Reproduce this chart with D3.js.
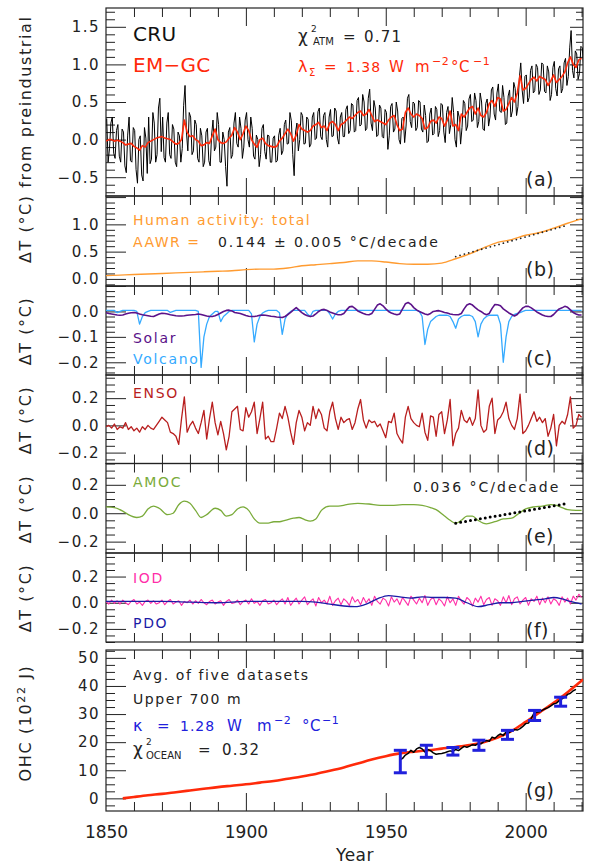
<!DOCTYPE html>
<html>
<head>
<meta charset="utf-8">
<script src="https://cdn.jsdelivr.net/npm/d3@7"></script>
<style>
  body { margin: 0; background: #fff; }
  svg  { display: block; font-family: "DejaVu Sans", sans-serif; }
</style>
</head>
<body>
<svg id="chart" width="589" height="864"></svg>
<script>
// ── Data ─────────────────────────────────────────────────────────────────────

const years = d3.range(1850, 2021);               // annual axis 1850..2020

// CRU observed anomaly, two readings per year (mid-half-years)
const cru = [
  0.28,-0.3, -0.12,0.22, 0.3,-0.18, -0.25,0.12, 0.2,-0.22, -0.3,0.14, 0.1,-0.35, -0.44,0.06, 0.3,-0.28, -0.3,0.16,
  0.12,-0.4, -0.58,0.0, 0.05,-0.47, -0.55,0.16, 0.02,-0.45, 0.3,-0.32, -0.26,0.36, 0.22,-0.3, -0.2,0.42, 0.55,-0.16,
  0.3,-0.24, -0.3,0.22, 0.36,-0.2, -0.25,0.2, 0.14,-0.3, -0.36,0.1, 0.05,-0.3, -0.12,0.45, 0.72,0.1, -0.15,0.36,
  0.3,-0.2, -0.15,0.26, 0.2,-0.25, -0.3,0.15, 0.05,-0.36, -0.3,0.1, 0.15,-0.28, -0.35,0.06, 0.26,-0.15, -0.1,0.36,
  0.2,-0.3, -0.3,0.1, 0.0,-0.36, -0.62,0.1, 0.16,-0.25, -0.2,0.22, 0.36,-0.05, -0.1,0.3, 0.15,-0.25, -0.1,0.26,
  0.36,0.0, -0.1,0.3, 0.15,-0.22, -0.26,0.06, 0.0,-0.36, -0.2,0.15, 0.2,-0.16, -0.26,0.06, 0.05,-0.3, -0.3,0.02,
  0.05,-0.3, -0.28,0.06, 0.15,-0.2, -0.15,0.2, 0.26,-0.06, -0.05,0.36, 0.25,-0.2, -0.48,0.1, 0.22,-0.15, 0.0,0.36,
  0.32,-0.06, -0.05,0.3, 0.27,-0.1, -0.06,0.3, 0.36,0.0, 0.02,0.37, 0.42,0.04, 0.0,0.32, 0.36,0.0, -0.1,0.3,
  0.4,0.04, 0.05,0.42, 0.38,0.02, -0.06,0.3, 0.36,0.04, 0.04,0.4, 0.45,0.08, 0.12,0.48, 0.46,0.1, 0.12,0.52,
  0.56,0.18, 0.2,0.6, 0.5,0.12, 0.15,0.55, 0.67,0.22, 0.12,0.52, 0.42,0.04, 0.06,0.46, 0.42,0.04, 0.02,0.4,
  0.36,-0.13, 0.05,0.44, 0.48,0.1, 0.14,0.5, 0.38,0.0, -0.06,0.28, 0.3,-0.04, 0.18,0.55, 0.6,0.24, 0.16,0.5,
  0.48,0.12, 0.16,0.52, 0.5,0.14, 0.1,0.46, 0.32,-0.04, -0.02,0.34, 0.42,0.06, 0.08,0.44, 0.4,0.04, 0.12,0.48,
  0.46,0.1, -0.04,0.36, 0.44,0.08, 0.2,0.56, 0.36,0.0, -0.1,0.38, 0.3,-0.06, 0.16,0.52, 0.48,0.12, 0.18,0.54,
  0.6,0.24, 0.26,0.62, 0.52,0.16, 0.24,0.62, 0.5,0.14, 0.12,0.48, 0.54,0.18, 0.3,0.66, 0.7,0.34, 0.26,0.62,
  0.74,0.38, 0.36,0.72, 0.56,0.2, 0.22,0.58, 0.66,0.3, 0.38,0.76, 0.68,0.32, 0.44,0.82, 1.02,0.66, 0.48,0.84,
  0.86,0.5, 0.56,0.92, 0.98,0.62, 0.65,1.0, 0.96,0.6, 0.66,1.02, 1.0,0.64, 0.62,0.98, 0.9,0.52, 0.6,0.96,
  1.04,0.68, 0.58,0.94, 0.98,0.62, 0.68,1.02, 1.08,0.72, 0.84,1.22, 1.45,0.92, 0.82,1.18, 1.14,0.8, 0.88,1.24,
  1.22,0.95
];
const cruTime = cru.map((d, i) => 1850.25 + i * 0.5);

// EM-GC modelled anomaly, annual
const emgc = [
  -0.02,0.0,0.0,-0.02,-0.01,-0.02,-0.04,-0.07,-0.06,-0.05,
  -0.09,-0.11,-0.14,-0.08,-0.1,-0.04,-0.02,0.0,0.02,0.03,
  0.04,0.02,0.01,0.0,-0.03,-0.06,-0.05,0.0,0.26,0.1,
  0.04,0.05,0.0,-0.02,-0.08,-0.07,-0.04,-0.05,0.05,0.14,
  0.0,-0.04,-0.05,-0.03,0.02,0.06,0.16,0.1,0.0,0.08,
  0.18,0.12,0.0,-0.06,-0.1,0.0,0.02,-0.05,-0.08,-0.09,
  -0.1,-0.09,-0.02,0.02,0.08,0.14,0.08,-0.02,0.06,0.2,
  0.14,0.12,0.1,0.12,0.18,0.2,0.23,0.16,0.18,0.12,
  0.22,0.24,0.2,0.12,0.2,0.22,0.26,0.3,0.28,0.32,
  0.36,0.38,0.32,0.34,0.4,0.32,0.24,0.26,0.24,0.22,
  0.2,0.26,0.3,0.32,0.2,0.12,0.14,0.36,0.42,0.34,
  0.3,0.34,0.32,0.28,0.14,0.16,0.24,0.26,0.22,0.3,
  0.28,0.18,0.26,0.38,0.18,0.2,0.12,0.34,0.3,0.36,
  0.42,0.44,0.34,0.42,0.32,0.3,0.36,0.48,0.52,0.44,
  0.56,0.54,0.38,0.4,0.48,0.56,0.5,0.62,0.85,0.66,
  0.68,0.74,0.8,0.83,0.78,0.84,0.82,0.8,0.72,0.78,
  0.86,0.76,0.8,0.84,0.9,1.02,1.1,1.0,0.96,1.06,
  1.08
];

// (b) human-induced warming
const humanYear = [1850,1855,1860,1865,1870,1875,1880,1885,1890,1895,1900,1905,1910,1915,1920,1925,1930,1935,1940,1945,1950,1955,1960,1965,1970,1975,1980,1985,1990,1995,2000,2005,2010,2015,2020];
const humanVal  = [0.06,0.07,0.08,0.09,0.1,0.11,0.12,0.13,0.14,0.15,0.17,0.18,0.18,0.2,0.24,0.26,0.28,0.3,0.33,0.33,0.31,0.28,0.27,0.27,0.29,0.37,0.46,0.57,0.67,0.72,0.8,0.85,0.93,1.02,1.1];
const aawrYear  = [1975, 2015];
const aawrVal   = [0.41, 0.985];

// (c) solar and volcanic, annual
const solar = [
  -0.005,-0.008,-0.01,-0.012,-0.014,-0.015,-0.014,-0.01,-0.007,-0.005,
  -0.004,-0.006,-0.01,-0.013,-0.015,-0.017,-0.019,-0.02,-0.015,-0.01,
  -0.007,-0.008,-0.01,-0.013,-0.015,-0.017,-0.018,-0.018,-0.017,-0.015,
  -0.014,-0.013,-0.012,-0.01,-0.012,-0.015,-0.018,-0.02,-0.02,-0.017,
  -0.012,-0.006,0.0,0.004,0.005,0.002,-0.004,-0.006,-0.008,-0.012,
  -0.016,-0.019,-0.02,-0.02,-0.018,-0.015,-0.014,-0.015,-0.017,-0.019,
  -0.02,-0.022,-0.023,-0.024,-0.02,-0.012,-0.004,0.006,0.015,0.005,
  -0.005,-0.012,-0.017,-0.02,-0.018,-0.01,0.0,0.006,0.008,0.004,
  -0.002,-0.006,-0.01,-0.013,-0.013,-0.008,0.006,0.018,0.02,0.012,
  0.002,-0.003,-0.008,-0.012,-0.013,-0.008,0.008,0.025,0.03,0.022,
  0.01,0.0,-0.006,-0.01,-0.013,-0.01,0.01,0.03,0.035,0.028,
  0.015,0.006,0.0,-0.005,-0.01,-0.013,-0.008,0.0,0.002,0.003,
  0.0,-0.004,-0.006,-0.01,-0.012,-0.013,-0.013,-0.008,0.01,0.025,
  0.03,0.025,0.015,0.006,0.0,-0.008,-0.013,-0.008,0.012,0.027,
  0.026,0.022,0.01,0.002,-0.006,-0.012,-0.018,-0.012,0.002,0.014,
  0.02,0.02,0.014,0.006,-0.002,-0.008,-0.014,-0.018,-0.02,-0.02,
  -0.012,0.0,0.01,0.014,0.02,0.016,0.006,-0.004,-0.01,-0.014,
  -0.014
];
const volcano = [
  0.004,0.004,0.004,0.004,-0.005,0.0,0.004,0.004,0.004,0.004,
  0.004,0.0,-0.05,-0.02,-0.005,0.0,0.004,0.004,0.004,0.004,
  0.004,0.004,0.004,-0.004,0.0,0.004,0.004,0.004,0.004,0.004,
  0.004,0.004,0.004,0.0,-0.22,-0.1,-0.05,-0.02,-0.01,0.0,
  0.0,-0.04,-0.02,-0.01,0.0,0.004,0.004,0.004,0.004,0.004,
  0.004,0.004,-0.01,-0.12,-0.05,-0.02,-0.006,0.0,0.004,0.004,
  0.004,0.004,-0.005,-0.09,-0.03,-0.01,0.0,0.004,0.004,0.004,
  0.004,0.004,-0.01,-0.02,0.0,0.004,0.004,0.004,0.004,0.004,
  -0.01,-0.03,-0.01,0.0,0.004,0.004,0.004,0.004,0.004,0.004,
  0.004,0.004,0.004,0.004,0.004,0.004,0.004,0.004,0.004,0.004,
  0.004,0.004,0.004,0.004,0.004,0.004,0.004,0.004,0.004,0.004,
  0.004,0.004,0.0,-0.02,-0.13,-0.07,-0.04,-0.03,-0.02,-0.015,
  -0.015,-0.015,-0.015,-0.02,-0.04,-0.066,-0.03,-0.02,-0.015,-0.015,
  -0.015,-0.02,-0.04,-0.1,-0.05,-0.03,-0.02,-0.015,-0.015,-0.015,
  -0.015,-0.05,-0.2,-0.1,-0.04,-0.02,-0.012,-0.008,-0.005,0.0,
  0.004,0.004,0.004,0.004,0.004,0.004,0.004,0.004,0.004,0.004,
  0.004,0.004,0.004,0.004,0.004,0.004,0.004,0.004,0.004,0.004,
  0.004
];

// (d) ENSO, annual
const enso = [
  -0.01,0.0,-0.02,0.01,-0.03,-0.01,-0.02,0.02,-0.03,-0.01,
  -0.04,-0.02,-0.05,-0.01,-0.03,0.0,-0.02,-0.03,0.0,0.03,
  0.06,0.04,0.02,-0.05,-0.06,-0.08,-0.14,0.05,0.21,-0.05,
  0.0,0.03,-0.02,-0.06,0.02,0.11,-0.1,0.05,0.17,0.02,
  -0.07,0.03,-0.06,-0.18,-0.08,0.1,0.12,0.14,-0.03,-0.04,
  0.13,0.06,0.1,0.17,-0.06,0.05,0.17,-0.1,-0.08,-0.12,
  -0.12,-0.02,0.09,0.05,0.14,0.06,-0.05,-0.14,0.02,0.11,
  0.06,-0.04,0.02,0.0,0.14,0.05,0.12,0.08,-0.02,-0.04,
  0.1,0.17,0.05,-0.03,0.06,0.02,0.04,0.05,-0.03,0.02,
  0.12,0.19,0.04,-0.02,0.04,0.02,0.03,-0.01,0.01,-0.04,
  -0.09,0.03,0.02,0.09,-0.06,-0.1,-0.13,0.06,0.14,0.05,
  0.02,0.0,-0.01,0.09,-0.05,-0.11,0.07,0.06,-0.08,0.08,
  0.1,-0.06,0.04,0.19,-0.15,-0.06,-0.02,0.11,0.04,0.02,
  0.06,0.0,0.05,0.26,0.0,-0.05,-0.03,0.14,0.2,-0.06,
  0.04,0.06,0.1,0.17,0.05,0.0,-0.03,0.05,0.23,-0.06,
  -0.04,0.0,0.05,0.1,0.03,0.06,0.02,0.05,-0.08,-0.02,
  0.08,-0.15,0.0,0.03,0.01,0.08,0.21,-0.02,0.0,0.08,
  0.06
];

// (e) AMOC
const amocYear = [1850,1853,1856,1858,1861,1863,1865,1867,1869,1872,1874,1876,1878,1880,1882,1884,1886,1889,1891,1893,1895,1897,1899,1901,1903,1905,1908,1910,1912,1914,1917,1919,1921,1923,1925,1927,1930,1933,1936,1940,1944,1948,1952,1956,1960,1963,1966,1968,1971,1973,1975,1977,1979,1981,1983,1986,1989,1992,1995,1997,2000,2003,2006,2009,2011,2013,2015,2018,2020];
const amocVal  = [0.045,0.04,0.015,-0.01,-0.03,-0.02,0.03,0.05,0.035,-0.01,0.0,0.06,0.085,0.07,0.02,-0.03,-0.01,0.035,0.02,-0.02,-0.01,0.03,0.045,0.02,-0.04,-0.07,-0.07,-0.06,-0.06,-0.05,-0.035,-0.03,-0.045,-0.055,-0.04,0.02,0.05,0.05,0.06,0.07,0.065,0.055,0.055,0.06,0.06,0.055,0.04,0.025,-0.02,-0.05,-0.07,-0.05,-0.02,-0.02,-0.05,-0.075,-0.06,-0.04,-0.035,-0.01,0.03,0.045,0.05,0.06,0.055,0.04,0.025,0.02,0.02];
const amocTrendYear = [1975, 2014];
const amocTrendVal  = [-0.07, 0.065];

// (f) IOD (annual) and PDO
const iod = [
  0.01,-0.01,0.02,-0.005,0.015,-0.01,0.02,0.0,-0.015,0.01,0.025,-0.01,0.005,-0.02,0.01,0.02,-0.005,0.015,-0.01,0.0,
  0.02,-0.015,0.01,0.025,-0.01,0.005,0.015,-0.02,0.01,0.0,0.02,-0.01,0.015,-0.005,0.025,0.0,-0.015,0.01,0.02,-0.01,
  0.005,0.015,-0.02,0.01,0.025,-0.005,0.0,0.02,-0.015,0.01,0.02,-0.01,0.03,-0.005,0.01,-0.02,0.015,0.025,-0.01,0.0,
  0.02,-0.015,0.01,0.03,-0.01,0.04,-0.02,0.01,0.035,-0.01,0.02,0.045,-0.015,0.01,0.03,-0.025,0.04,0.0,0.02,-0.01,
  0.05,-0.02,0.015,0.035,-0.015,0.03,0.01,-0.02,0.045,0.005,0.025,-0.015,0.04,0.0,0.03,-0.02,0.05,0.01,-0.01,0.035,
  0.02,-0.025,0.045,0.005,0.03,-0.015,0.04,0.01,-0.02,0.05,0.02,-0.01,0.035,0.0,0.055,-0.02,0.025,0.04,-0.015,0.03,
  0.01,-0.025,0.045,0.0,0.03,-0.02,0.05,0.015,-0.01,0.04,0.02,-0.025,0.035,0.005,0.05,-0.015,0.025,0.04,-0.02,0.03,
  0.015,-0.02,0.045,0.0,0.055,-0.015,0.03,0.045,-0.01,0.02,0.04,-0.02,0.03,0.01,0.05,-0.015,0.035,0.0,0.045,-0.01,
  0.03,0.015,-0.02,0.045,0.005,0.035,-0.01,0.05,0.02,0.065,0.04
];
const pdoYear = [1850,1860,1870,1880,1890,1900,1910,1915,1920,1925,1930,1935,1939,1943,1947,1951,1955,1959,1963,1967,1971,1975,1979,1983,1987,1991,1995,1999,2003,2007,2010,2013,2016,2020];
const pdoVal  = [0.01,0.01,0.01,0.005,0.0,0.01,0.01,0.01,0.01,0.005,-0.01,-0.025,-0.03,-0.01,0.03,0.055,0.045,0.035,0.045,0.04,0.04,0.035,0.0,-0.03,-0.015,0.0,0.0,0.01,0.02,0.03,0.04,0.03,0.01,-0.01];

// (g) ocean heat content, 10^22 J
const ohcModelYear = [1856,1860,1865,1870,1875,1880,1885,1890,1895,1900,1905,1910,1915,1920,1925,1930,1935,1940,1945,1950,1955,1960,1965,1970,1975,1980,1985,1990,1995,2000,2005,2010,2015,2020.5];
const ohcModelVal  = [0.0,0.5,1.1,1.6,2.2,2.8,3.4,4.0,4.5,5.0,5.6,6.2,7.0,7.8,8.7,9.8,11.0,12.4,13.8,15.0,16.0,16.6,17.1,17.7,18.3,19.0,20.0,21.6,24.0,27.2,30.6,34.0,37.8,42.3];
const ohcObsYear = d3.range(1955, 2019);
const ohcObsVal  = [13.6,14.2,15.4,16.0,17.1,16.4,17.6,18.1,17.6,16.5,17.4,17.0,16.2,15.7,15.9,16.0,16.2,16.6,16.9,16.7,
  17.4,17.0,17.8,18.5,18.2,18.6,19.1,18.9,19.5,19.4,20.2,20.6,20.3,21.8,21.4,22.3,22.9,22.4,23.6,23.4,
  23.9,24.5,24.3,24.8,25.6,26.6,26.8,28.5,30.3,30.6,30.8,31.4,31.9,32.3,32.9,33.6,33.9,34.8,35.4,36.0,
  37.0,37.4,38.3,38.8];
const errYear = [1955.2, 1964.5, 1974, 1983.3, 1993.5, 2003.2, 2012.5];
const errLo   = [9.1, 14.6, 15.4, 17.1, 21.0, 27.7, 32.8];
const errHi   = [17.1, 18.9, 18.1, 20.7, 24.2, 31.3, 36.0];

// ── Layout ───────────────────────────────────────────────────────────────────

const X0 = 106, X1 = 583;
const FONT = '"DejaVu Sans", sans-serif';
const C = {
  red: '#ff2a0a', orange: '#ff9b30', purple: '#5b1289', sky: '#35aaff',
  enso: '#b81e1e', green: '#7aab3a', magenta: '#ff2fa8', navy: '#1b1ba6', blue: '#2020dc'
};

const panels = [
  { id: 'a', top: 8,     bottom: 196,   domain: [-0.75, 1.75], major: 0.5, minor: 0.1,  labels: [-0.5, 0, 0.5, 1, 1.5] },
  { id: 'b', top: 196,   bottom: 286,   domain: [-0.13, 1.52], major: 0.5, minor: 0.1,  labels: [0, 0.5, 1] },
  { id: 'c', top: 286,   bottom: 375,   domain: [-0.25, 0.1],  major: 0.1, minor: 0.02, labels: [-0.2, -0.1, 0] },
  { id: 'd', top: 375,   bottom: 463.5, domain: [-0.28, 0.37], major: 0.2, minor: 0.05, labels: [-0.2, 0, 0.2] },
  { id: 'e', top: 463.5, bottom: 553,   domain: [-0.28, 0.35], major: 0.2, minor: 0.05, labels: [-0.2, 0, 0.2] },
  { id: 'f', top: 553,   bottom: 642,   domain: [-0.3, 0.38],  major: 0.2, minor: 0.05, labels: [-0.2, 0, 0.2] },
  { id: 'g', top: 650,   bottom: 811,   domain: [-4.5, 52.8],  major: 10,  minor: 2.5,  labels: [0, 10, 20, 30, 40, 50] }
];

const svg = d3.select('#chart');
const x = d3.scaleLinear().domain([1850, 2020.5]).range([X0, X1]);
const Y = {};

function stepValues(lo, hi, step) {
  const out = [];
  for (let k = Math.ceil(lo / step - 1e-9); k * step <= hi + 1e-9; k++) out.push(+(k * step).toFixed(6));
  return out;
}

function tickAxis(g, gen, scale, vals, len, tr) {
  g.append('g').attr('transform', tr)
    .call(gen(scale).tickValues(vals).tickSize(-len).tickFormat(''))
    .call(s => {
      s.select('.domain').remove();
      s.selectAll('line').attr('stroke', '#222').attr('stroke-width', 1);
    });
}

// ── Panels: frames, ticks, tick labels ───────────────────────────────────────

const defs = svg.append('defs');

panels.forEach(p => {
  const y = d3.scaleLinear().domain(p.domain).range([p.bottom, p.top]);
  Y[p.id] = y;
  const g = svg.append('g').attr('class', 'panel-' + p.id);

  defs.append('clipPath').attr('id', 'clip-' + p.id)
    .append('rect').attr('x', X0).attr('y', p.top).attr('width', X1 - X0).attr('height', p.bottom - p.top);

  const majY = stepValues(p.domain[0], p.domain[1], p.major);
  const minY = stepValues(p.domain[0], p.domain[1], p.minor)
    .filter(v => !majY.some(m => Math.abs(m - v) < 1e-6));
  const majX = [1900, 1950, 2000];
  const minX = d3.range(1860, 2021, 10).filter(v => !majX.includes(v));

  tickAxis(g, d3.axisLeft,  y, majY, 20, `translate(${X0},0)`);
  tickAxis(g, d3.axisLeft,  y, minY, 9,  `translate(${X0},0)`);
  tickAxis(g, d3.axisRight, y, majY, 13, `translate(${X1},0)`);
  tickAxis(g, d3.axisRight, y, minY, 7,  `translate(${X1},0)`);
  tickAxis(g, d3.axisTop,    x, majX, 18, `translate(0,${p.top})`);
  tickAxis(g, d3.axisTop,    x, minX, 9,  `translate(0,${p.top})`);
  tickAxis(g, d3.axisBottom, x, majX, 18, `translate(0,${p.bottom})`);
  tickAxis(g, d3.axisBottom, x, minX, 9,  `translate(0,${p.bottom})`);

  g.append('rect')
    .attr('x', X0).attr('y', p.top).attr('width', X1 - X0).attr('height', p.bottom - p.top)
    .attr('fill', 'none').attr('stroke', '#222').attr('stroke-width', 1.2);

  const fmt = p.id === 'g' ? d3.format('d') : d3.format('.1f');
  g.append('g').attr('transform', `translate(${X0},0)`)
    .call(d3.axisLeft(y).tickValues(p.labels).tickSize(0).tickPadding(6).tickFormat(fmt))
    .call(s => {
      s.select('.domain').remove();
      s.selectAll('text').attr('font-family', FONT).attr('font-size', 15)
        .attr('letter-spacing', 1.5).attr('fill', '#222');
    });

  p.g = g.append('g').attr('clip-path', `url(#clip-${p.id})`);
});

// x labels on the bottom panel
svg.append('g').attr('transform', `translate(0,811)`)
  .call(d3.axisBottom(x).tickValues([1850, 1900, 1950, 2000]).tickSize(0).tickPadding(15).tickFormat(d3.format('d')))
  .call(s => {
    s.select('.domain').remove();
    s.selectAll('text').attr('font-family', FONT).attr('font-size', 17).attr('fill', '#222');
  });

// ── Lines ────────────────────────────────────────────────────────────────────

const P = Object.fromEntries(panels.map(p => [p.id, p]));

function drawLine(id, xs, vals, color, w, curve, dash) {
  const y = Y[id];
  const path = P[id].g.append('path').datum(vals)
    .attr('d', d3.line().x((d, i) => x(xs[i])).y(d => y(d)).curve(curve || d3.curveLinear))
    .attr('fill', 'none').attr('stroke', color).attr('stroke-width', w)
    .attr('stroke-linejoin', 'round');
  if (dash) path.attr('stroke-dasharray', dash).attr('stroke-linecap', 'round');
  return path;
}

// (a)
drawLine('a', cruTime, cru, '#000', 1);
drawLine('a', years, emgc, C.red, 1.6);
// (b)
drawLine('b', humanYear, humanVal, C.orange, 1.4, d3.curveMonotoneX);
drawLine('b', aawrYear, aawrVal, '#222', 1.8, d3.curveLinear, '0,4.5');
// (c)
drawLine('c', years, volcano, C.sky, 1.3);
drawLine('c', years, solar, C.purple, 1.6);
// (d)
drawLine('d', years, enso, C.enso, 1.3);
// (e)
drawLine('e', amocYear, amocVal, C.green, 1.3, d3.curveMonotoneX);
drawLine('e', amocTrendYear, amocTrendVal, '#000', 3, d3.curveLinear, '0,5');
// (f)
drawLine('f', years, iod, C.magenta, 1.1);
drawLine('f', pdoYear, pdoVal, C.navy, 1.3, d3.curveMonotoneX);
// (g)
drawLine('g', ohcModelYear, ohcModelVal, C.red, 2.6, d3.curveMonotoneX);
drawLine('g', ohcObsYear, ohcObsVal, '#000', 1.5);

const eb = P.g.g.append('g').attr('stroke', C.blue).attr('stroke-width', 3).attr('fill', 'none');
errYear.forEach((yr, i) => {
  const cx = x(yr), y0 = Y.g(errLo[i]), y1 = Y.g(errHi[i]);
  eb.append('line').attr('x1', cx).attr('x2', cx).attr('y1', y0).attr('y2', y1);
  eb.append('line').attr('x1', cx - 6.5).attr('x2', cx + 6.5).attr('y1', y0).attr('y2', y0);
  eb.append('line').attr('x1', cx - 6.5).attr('x2', cx + 6.5).attr('y1', y1).attr('y2', y1);
});

// ── Text ─────────────────────────────────────────────────────────────────────

function txt(xp, yp, s, opt = {}) {
  return svg.append('text').attr('x', xp).attr('y', yp).text(s)
    .attr('font-family', FONT).attr('font-size', opt.size || 14)
    .attr('letter-spacing', opt.ls == null ? 1.7 : opt.ls)
    .attr('fill', opt.color || '#222')
    .attr('text-anchor', opt.anchor || 'start');
}

// (a)
txt(133, 41, 'CRU', { size: 20, ls: 0.3, color: '#111' });
txt(133, 72, 'EM\u2212GC', { size: 20, ls: 0.3, color: C.red });
txt(298, 42, '\u03c7', { size: 17, ls: 0 });
txt(311, 32, '2', { size: 9, ls: 0 });
txt(313, 45, 'ATM', { size: 10, ls: 0 });
txt(343, 42, '=', { size: 15 });
txt(364, 42, '0.71', { size: 15, ls: 1.2 });
txt(298, 72, '\u03bb', { size: 16, ls: 0, color: C.red });
txt(309, 76, '\u03a3', { size: 10, ls: 0, color: C.red });
txt(324, 72, '=', { size: 15, color: C.red });
txt(346, 72, '1.38', { size: 14, ls: 1, color: C.red });
txt(389, 72, 'W', { size: 15, color: C.red });
txt(415, 72, 'm', { size: 15, color: C.red });
txt(432, 65, '\u22122', { size: 11, ls: 0.5, color: C.red });
txt(451, 72, '\u00b0C', { size: 15, ls: 0.5, color: C.red });
txt(473, 65, '\u22121', { size: 11, ls: 0.5, color: C.red });
txt(526, 186, '(a)', { size: 19, ls: 0.5 });

// (b)
txt(133, 225, 'Human activity: total', { color: C.orange, ls: 1.5 });
txt(133, 247, 'AAWR =', { color: C.orange, ls: 1.5 });
txt(218, 247, '0.144 \u00b1 0.005 \u00b0C/decade', { ls: 1.9 });
txt(526, 276, '(b)', { size: 19, ls: 0.5 });

// (c)
txt(133, 343, 'Solar', { color: C.purple });
txt(133, 364, 'Volcano', { color: C.sky });
txt(526, 365, '(c)', { size: 19, ls: 0.5 });

// (d)
txt(133, 398, 'ENSO', { color: C.enso });
txt(526, 455, '(d)', { size: 19, ls: 0.5 });

// (e)
txt(133, 487, 'AMOC', { color: C.green });
txt(413, 492, '0.036 \u00b0C/decade', { ls: 2 });
txt(526, 543, '(e)', { size: 19, ls: 0.5 });

// (f)
txt(133, 583, 'IOD', { color: C.magenta });
txt(133, 628, 'PDO', { color: C.navy });
txt(526, 637, '(f)', { size: 19, ls: 0.5 });

// (g)
txt(133, 680, 'Avg. of five datasets', { ls: 1.6 });
txt(133, 704, 'Upper 700 m', { ls: 1.6 });
txt(133, 731, '\u03ba', { size: 16, ls: 0, color: C.blue });
txt(157, 731, '=', { size: 15, color: C.blue });
txt(180, 731, '1.28', { size: 14, ls: 1, color: C.blue });
txt(227, 731, 'W', { size: 15, color: C.blue });
txt(257, 731, 'm', { size: 15, color: C.blue });
txt(274, 724, '\u22122', { size: 11, ls: 0.5, color: C.blue });
txt(302, 731, '\u00b0C', { size: 15, ls: 0.5, color: C.blue });
txt(322, 724, '\u22121', { size: 11, ls: 0.5, color: C.blue });
txt(133, 755, '\u03c7', { size: 17, ls: 0 });
txt(146, 745, '2', { size: 9, ls: 0 });
txt(146, 759, 'OCEAN', { size: 10, ls: 0 });
txt(198, 755, '=', { size: 15 });
txt(222, 755, '0.32', { size: 15, ls: 1.2 });
txt(526, 797, '(g)', { size: 19, ls: 0.5 });

// axis titles
txt(355, 861, 'Year', { size: 17, ls: 0.5, anchor: 'middle' });

function ylab(cy, s, anchor) {
  return svg.append('text')
    .attr('transform', `translate(31,${cy}) rotate(-90)`)
    .attr('font-family', FONT).attr('font-size', 16).attr('letter-spacing', 1.6)
    .attr('fill', '#222').attr('text-anchor', anchor || 'middle').text(s);
}
ylab(263, '\u0394T (\u00b0C) from preindustrial', 'start');
ylab(331, '\u0394T (\u00b0C)');
ylab(420, '\u0394T (\u00b0C)');
ylab(509, '\u0394T (\u00b0C)');
ylab(598, '\u0394T (\u00b0C)');
const ohcLab = ylab(723, 'OHC (10');
ohcLab.append('tspan').attr('font-size', 11).attr('dy', -6).text('22');
ohcLab.append('tspan').attr('dy', 6).text(' J)');
</script>
</body>
</html>
